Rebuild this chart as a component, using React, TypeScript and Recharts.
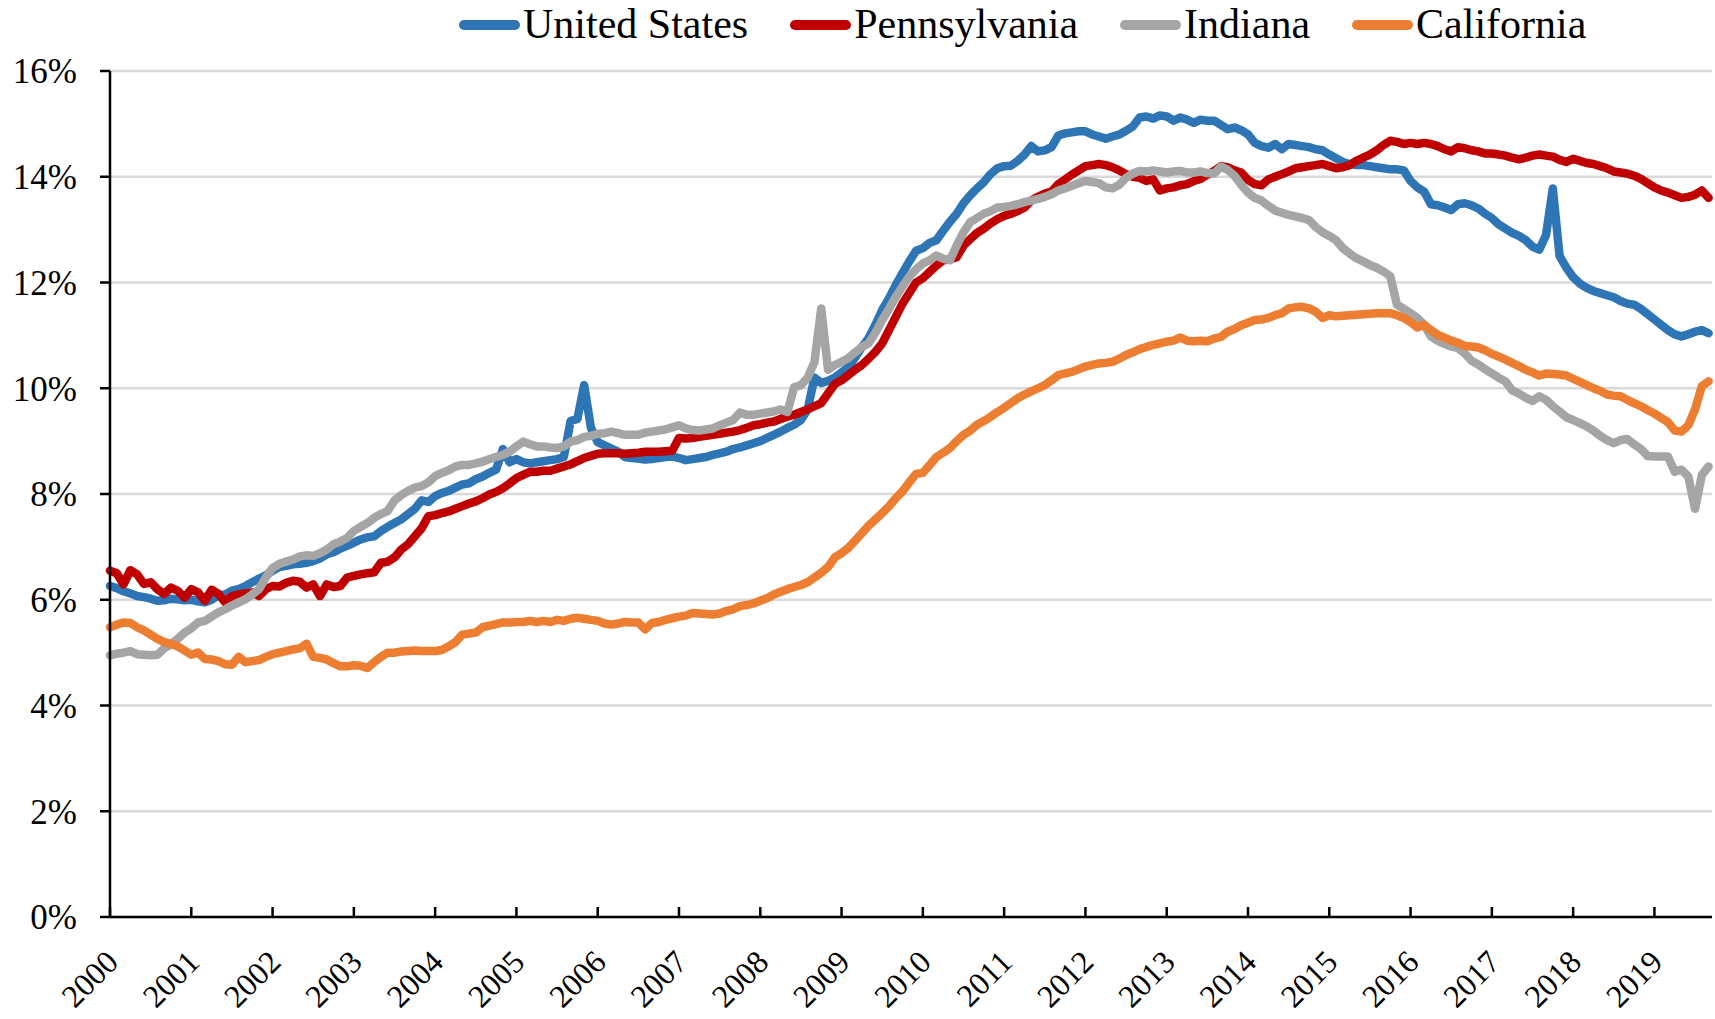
import { LineChart, Line, XAxis, YAxis, CartesianGrid } from 'recharts';

// Monthly series, Jan 2000 .. Sep 2019 (one row per year)
const UNITED_STATES = [
  6.26, 6.22, 6.16, 6.12, 6.07, 6.05, 6.02, 5.98, 5.99, 6.02, 6.01, 5.99,
  6.0, 5.97, 5.95, 6.0, 6.08, 6.1, 6.17, 6.2, 6.26, 6.33, 6.4, 6.46,
  6.55, 6.62, 6.64, 6.67, 6.68, 6.7, 6.73, 6.78, 6.86, 6.9, 6.97, 7.02,
  7.08, 7.14, 7.18, 7.2, 7.3, 7.38, 7.45, 7.52, 7.62, 7.72, 7.88, 7.85,
  7.96, 8.02, 8.06, 8.12, 8.18, 8.2, 8.28, 8.33, 8.4, 8.46, 8.85, 8.6,
  8.66, 8.6, 8.58, 8.6, 8.62, 8.64, 8.66, 8.7, 9.38, 9.42, 10.06, 9.25,
  8.98, 8.92, 8.86, 8.8, 8.7, 8.68, 8.67, 8.65, 8.66, 8.68, 8.7, 8.71,
  8.68, 8.64, 8.66, 8.68, 8.7, 8.74, 8.77, 8.8, 8.85, 8.88, 8.92, 8.96,
  9.0, 9.06, 9.12, 9.18, 9.25, 9.31, 9.4, 9.6, 10.2, 10.1, 10.14, 10.2,
  10.3, 10.4, 10.58, 10.78, 10.95, 11.2, 11.48, 11.7, 11.95, 12.18, 12.4, 12.6,
  12.65, 12.75, 12.8, 12.98, 13.15, 13.3, 13.5, 13.65, 13.78, 13.9, 14.05, 14.16,
  14.2, 14.21, 14.3, 14.42, 14.58, 14.48, 14.5, 14.56, 14.78, 14.82, 14.84, 14.86,
  14.86, 14.8, 14.76, 14.72, 14.76, 14.8, 14.87, 14.95, 15.12, 15.14, 15.1, 15.16,
  15.14, 15.06, 15.12, 15.08, 15.02, 15.08, 15.06, 15.06, 14.98, 14.9, 14.93, 14.88,
  14.8, 14.64, 14.58, 14.55, 14.62, 14.52, 14.62, 14.6, 14.58, 14.56, 14.52, 14.5,
  14.42, 14.35, 14.28, 14.24, 14.22, 14.22, 14.2, 14.18, 14.16, 14.14, 14.14, 14.12,
  13.92, 13.8, 13.72, 13.48, 13.46, 13.42, 13.37, 13.48, 13.5, 13.46, 13.4, 13.3,
  13.22, 13.1, 13.02, 12.94, 12.88, 12.8, 12.68, 12.62, 12.9, 13.78, 12.5, 12.28,
  12.1, 11.98, 11.9, 11.84, 11.8, 11.76, 11.72, 11.65, 11.6, 11.58, 11.5, 11.4,
  11.3, 11.2, 11.1, 11.02, 10.98, 11.02, 11.07, 11.1, 11.04,
];

const PENNSYLVANIA = [
  6.55, 6.5, 6.29, 6.56, 6.48, 6.3, 6.33, 6.2, 6.11, 6.23, 6.17, 6.04,
  6.2, 6.14, 5.98, 6.19, 6.11, 5.95, 6.07, 6.1, 6.12, 6.14, 6.07, 6.2,
  6.26, 6.25, 6.32, 6.36, 6.34, 6.23, 6.29, 6.07, 6.29, 6.24, 6.26, 6.42,
  6.45, 6.48, 6.5, 6.52, 6.7, 6.72, 6.8, 6.95, 7.05, 7.2, 7.35, 7.58,
  7.6, 7.64, 7.67, 7.72, 7.77, 7.82, 7.86, 7.92, 7.99, 8.04, 8.11, 8.2,
  8.3, 8.36, 8.42, 8.42, 8.44, 8.44, 8.48, 8.52, 8.56, 8.62, 8.68, 8.72,
  8.76, 8.77, 8.77, 8.77, 8.76, 8.77, 8.78, 8.8, 8.8, 8.8, 8.81, 8.82,
  9.06, 9.05, 9.06, 9.08, 9.1, 9.12, 9.14, 9.16, 9.18, 9.21, 9.25, 9.3,
  9.32, 9.35, 9.37, 9.42, 9.46, 9.5, 9.55, 9.6, 9.66, 9.72, 9.9, 10.08,
  10.15, 10.25, 10.35, 10.44, 10.56, 10.69, 10.85, 11.1, 11.35, 11.6, 11.8, 12.0,
  12.08, 12.2, 12.32, 12.42, 12.44, 12.48, 12.7, 12.82, 12.94, 13.02, 13.12, 13.2,
  13.26, 13.3, 13.35, 13.42, 13.55, 13.62, 13.68, 13.72, 13.86, 13.95, 14.04, 14.12,
  14.2, 14.22, 14.24, 14.22, 14.18, 14.12, 14.05, 14.0, 13.98, 13.92, 13.95, 13.74,
  13.78, 13.8, 13.84, 13.86, 13.92, 13.96, 14.04, 14.11, 14.2, 14.18, 14.12, 14.08,
  13.94, 13.86, 13.84, 13.95, 14.0, 14.05, 14.1, 14.16, 14.18, 14.2, 14.22, 14.24,
  14.2, 14.16, 14.18, 14.22, 14.3, 14.36, 14.42, 14.5, 14.6, 14.68, 14.66, 14.62,
  14.64, 14.62, 14.64, 14.62, 14.58, 14.52, 14.48, 14.56, 14.54, 14.5, 14.48, 14.44,
  14.44, 14.42, 14.4, 14.36, 14.33, 14.36, 14.4, 14.42, 14.4, 14.38, 14.32, 14.28,
  14.34, 14.3, 14.26, 14.24, 14.2, 14.16, 14.1, 14.08, 14.06, 14.02, 13.96, 13.88,
  13.8, 13.74, 13.7, 13.65, 13.6, 13.62, 13.66, 13.74, 13.6,
];

const INDIANA = [
  4.95, 4.98, 5.0, 5.03, 4.97, 4.96, 4.95, 4.96, 5.08, 5.16, 5.26, 5.38,
  5.46, 5.57, 5.6, 5.68, 5.76, 5.82, 5.89, 5.95, 6.01, 6.1, 6.2, 6.42,
  6.6, 6.68, 6.72, 6.76, 6.82, 6.84, 6.83, 6.88, 6.95, 7.05, 7.1, 7.17,
  7.3, 7.38, 7.45, 7.55, 7.62, 7.68, 7.88, 7.98, 8.06, 8.12, 8.15, 8.22,
  8.34, 8.4, 8.45, 8.52, 8.55, 8.55, 8.58, 8.61, 8.66, 8.7, 8.74, 8.8,
  8.9, 8.99, 8.94, 8.9, 8.9, 8.88, 8.87, 8.9, 8.99, 9.02, 9.08, 9.1,
  9.14, 9.15, 9.18, 9.15, 9.12, 9.12, 9.12, 9.16, 9.18, 9.2, 9.22, 9.26,
  9.3, 9.24, 9.21, 9.2, 9.22, 9.24, 9.3, 9.35, 9.4, 9.54, 9.5, 9.5,
  9.52, 9.54, 9.56, 9.6, 9.55, 10.02, 10.06, 10.2, 10.5, 11.51, 10.35, 10.44,
  10.5, 10.57, 10.68, 10.78, 10.85, 11.05, 11.29, 11.5, 11.73, 11.92, 12.11, 12.25,
  12.36, 12.42, 12.51, 12.45, 12.42, 12.7, 12.95, 13.14, 13.22, 13.3, 13.35, 13.42,
  13.43, 13.45, 13.48, 13.52, 13.55, 13.58, 13.62, 13.67, 13.74, 13.78, 13.83, 13.88,
  13.92, 13.9, 13.88, 13.8, 13.78, 13.85, 13.98, 14.06, 14.11, 14.1, 14.12, 14.1,
  14.08, 14.1, 14.11, 14.08, 14.08, 14.1, 14.07, 14.06, 14.19, 14.13, 14.02, 13.85,
  13.7, 13.6, 13.55, 13.45, 13.36, 13.32, 13.28, 13.25, 13.22, 13.18, 13.05, 12.95,
  12.88, 12.8, 12.65, 12.55, 12.46, 12.4, 12.33, 12.28, 12.21, 12.12, 11.58, 11.5,
  11.42, 11.33, 11.2, 10.98, 10.9, 10.84, 10.79, 10.76, 10.66, 10.52, 10.45, 10.36,
  10.28, 10.2, 10.13, 9.96, 9.9, 9.82, 9.76, 9.85, 9.78, 9.66, 9.56, 9.45,
  9.4, 9.34, 9.28, 9.2, 9.1, 9.02, 8.96, 9.02, 9.04, 8.94, 8.85, 8.72,
  8.71, 8.71, 8.71, 8.42, 8.46, 8.33, 7.72, 8.36, 8.52,
];

const CALIFORNIA = [
  5.48, 5.53, 5.57, 5.56, 5.48, 5.42, 5.34, 5.26, 5.2, 5.16, 5.12, 5.04,
  4.96, 5.0, 4.88, 4.87, 4.84, 4.78, 4.77, 4.92, 4.82, 4.84, 4.86, 4.92,
  4.97, 5.0, 5.03, 5.06, 5.08, 5.17, 4.92, 4.9, 4.87, 4.8, 4.74, 4.74,
  4.76, 4.75, 4.71, 4.82, 4.92, 5.0, 5.0, 5.02, 5.03, 5.04, 5.03, 5.03,
  5.03, 5.05, 5.12, 5.2, 5.34, 5.36, 5.38, 5.48, 5.51, 5.54, 5.57, 5.57,
  5.58, 5.58, 5.6, 5.58, 5.6, 5.58, 5.62, 5.6, 5.64, 5.66, 5.64, 5.62,
  5.6, 5.55, 5.53, 5.55, 5.58, 5.57, 5.57, 5.44, 5.56, 5.58, 5.62, 5.65,
  5.68, 5.7, 5.75, 5.74, 5.73, 5.72, 5.74, 5.79, 5.82, 5.88, 5.9, 5.93,
  5.98, 6.03, 6.1, 6.15, 6.2, 6.24, 6.28, 6.33, 6.42, 6.51, 6.62, 6.8,
  6.88, 6.98, 7.12, 7.26, 7.4, 7.52, 7.64, 7.77, 7.92, 8.05, 8.22, 8.38,
  8.4, 8.55, 8.7, 8.78, 8.87, 9.0, 9.12, 9.2, 9.31, 9.38, 9.46, 9.55,
  9.63, 9.72, 9.81, 9.88, 9.94, 10.0, 10.06, 10.15, 10.25, 10.28, 10.31, 10.36,
  10.41, 10.44, 10.47, 10.48, 10.5, 10.56, 10.63, 10.68, 10.74, 10.78, 10.82, 10.85,
  10.88, 10.9, 10.96, 10.9, 10.89, 10.9, 10.89, 10.94, 10.97, 11.07, 11.12, 11.19,
  11.24, 11.29, 11.3, 11.33, 11.38, 11.42, 11.51, 11.53, 11.54, 11.51, 11.45, 11.33,
  11.38, 11.36, 11.37, 11.38, 11.39, 11.4, 11.41, 11.42, 11.42, 11.42, 11.38, 11.33,
  11.25, 11.15, 11.2, 11.1, 11.01, 10.96, 10.9, 10.86, 10.8, 10.79, 10.77, 10.72,
  10.65, 10.6, 10.54, 10.48, 10.42, 10.35, 10.3, 10.24, 10.28, 10.27, 10.26, 10.24,
  10.18, 10.12, 10.06, 10.0, 9.95, 9.88, 9.86, 9.85, 9.78, 9.72, 9.66, 9.59,
  9.52, 9.44, 9.36, 9.2, 9.18, 9.3, 9.6, 10.04, 10.13,
];

const YEARS = [
  2000, 2001, 2002, 2003, 2004, 2005, 2006, 2007, 2008, 2009,
  2010, 2011, 2012, 2013, 2014, 2015, 2016, 2017, 2018, 2019,
];
const Y_TICKS = [0, 2, 4, 6, 8, 10, 12, 14, 16];

const SERIES = [
  { key: 'us', name: 'United States', color: '#2E75B6', values: UNITED_STATES },
  { key: 'pa', name: 'Pennsylvania', color: '#C00000', values: PENNSYLVANIA },
  { key: 'in', name: 'Indiana', color: '#A5A5A5', values: INDIANA },
  { key: 'ca', name: 'California', color: '#ED7D31', values: CALIFORNIA },
];

const data = UNITED_STATES.map((_, i) => {
  const row: Record<string, number> = { m: i };
  SERIES.forEach((s) => {
    row[s.key] = s.values[i];
  });
  return row;
});

const W = 1715;
const H = 1019;
const X_AXIS_H = 102;
const PLOT_BOTTOM = H - X_AXIS_H;
const FONT = "'Liberation Serif', 'Times New Roman', serif";

function YearTick(props: any) {
  const { x, payload } = props;
  const label = 2000 + Math.round(payload.value / 12);
  const tx = x + 10;
  const ty = PLOT_BOTTOM + 47;
  return (
    <g>
      <line x1={x} x2={x} y1={PLOT_BOTTOM} y2={PLOT_BOTTOM - 10} stroke="#000" strokeWidth={2.5} />
      <text
        x={tx}
        y={ty}
        textAnchor="end"
        transform={`rotate(-45 ${tx} ${ty})`}
        fontSize={32}
        fontFamily={FONT}
        fill="#000"
      >
        {label}
      </text>
    </g>
  );
}

function ChartLegend() {
  return (
    <div
      style={{
        position: 'absolute',
        left: 459,
        top: 0,
        display: 'flex',
        gap: 42,
        fontFamily: FONT,
        fontSize: 42,
        color: '#000',
        whiteSpace: 'nowrap',
      }}
    >
      {SERIES.map((s) => (
        <div key={s.key} style={{ display: 'flex', alignItems: 'center' }}>
          <span
            style={{
              display: 'inline-block',
              width: 61,
              height: 10,
              borderRadius: 5,
              background: s.color,
              marginRight: 3,
              marginTop: 2,
            }}
          />
          <span>{s.name}</span>
        </div>
      ))}
    </div>
  );
}

export default function App() {
  return (
    <div style={{ position: 'absolute', left: 0, top: 0, width: W, height: H, background: '#fff' }}>
      <LineChart width={W} height={H} data={data} margin={{ top: 71, right: 3, left: 0, bottom: 0 }}>
        <CartesianGrid vertical={false} stroke="#D9D9D9" strokeWidth={2.5} />
        <XAxis
          dataKey="m"
          type="number"
          domain={[0, 236.5]}
          ticks={YEARS.map((y) => (y - 2000) * 12)}
          interval={0}
          height={X_AXIS_H}
          axisLine={{ stroke: '#000', strokeWidth: 2.5 }}
          tickLine={false}
          tick={<YearTick />}
        />
        <YAxis
          type="number"
          domain={[0, 16]}
          ticks={Y_TICKS}
          interval={0}
          width={110}
          tickFormatter={(v) => `${v}%`}
          axisLine={{ stroke: '#000', strokeWidth: 2.5 }}
          tickLine={{ stroke: '#000', strokeWidth: 2.5 }}
          tickSize={10}
          tickMargin={23}
          tick={{ fontSize: 35, fontFamily: FONT, fill: '#000' }}
        />
        {SERIES.map((s) => (
          <Line
            key={s.key}
            type="linear"
            dataKey={s.key}
            name={s.name}
            stroke={s.color}
            strokeWidth={8.5}
            strokeLinejoin="round"
            strokeLinecap="round"
            dot={false}
            activeDot={false}
            isAnimationActive={false}
          />
        ))}
      </LineChart>
      <ChartLegend />
    </div>
  );
}
